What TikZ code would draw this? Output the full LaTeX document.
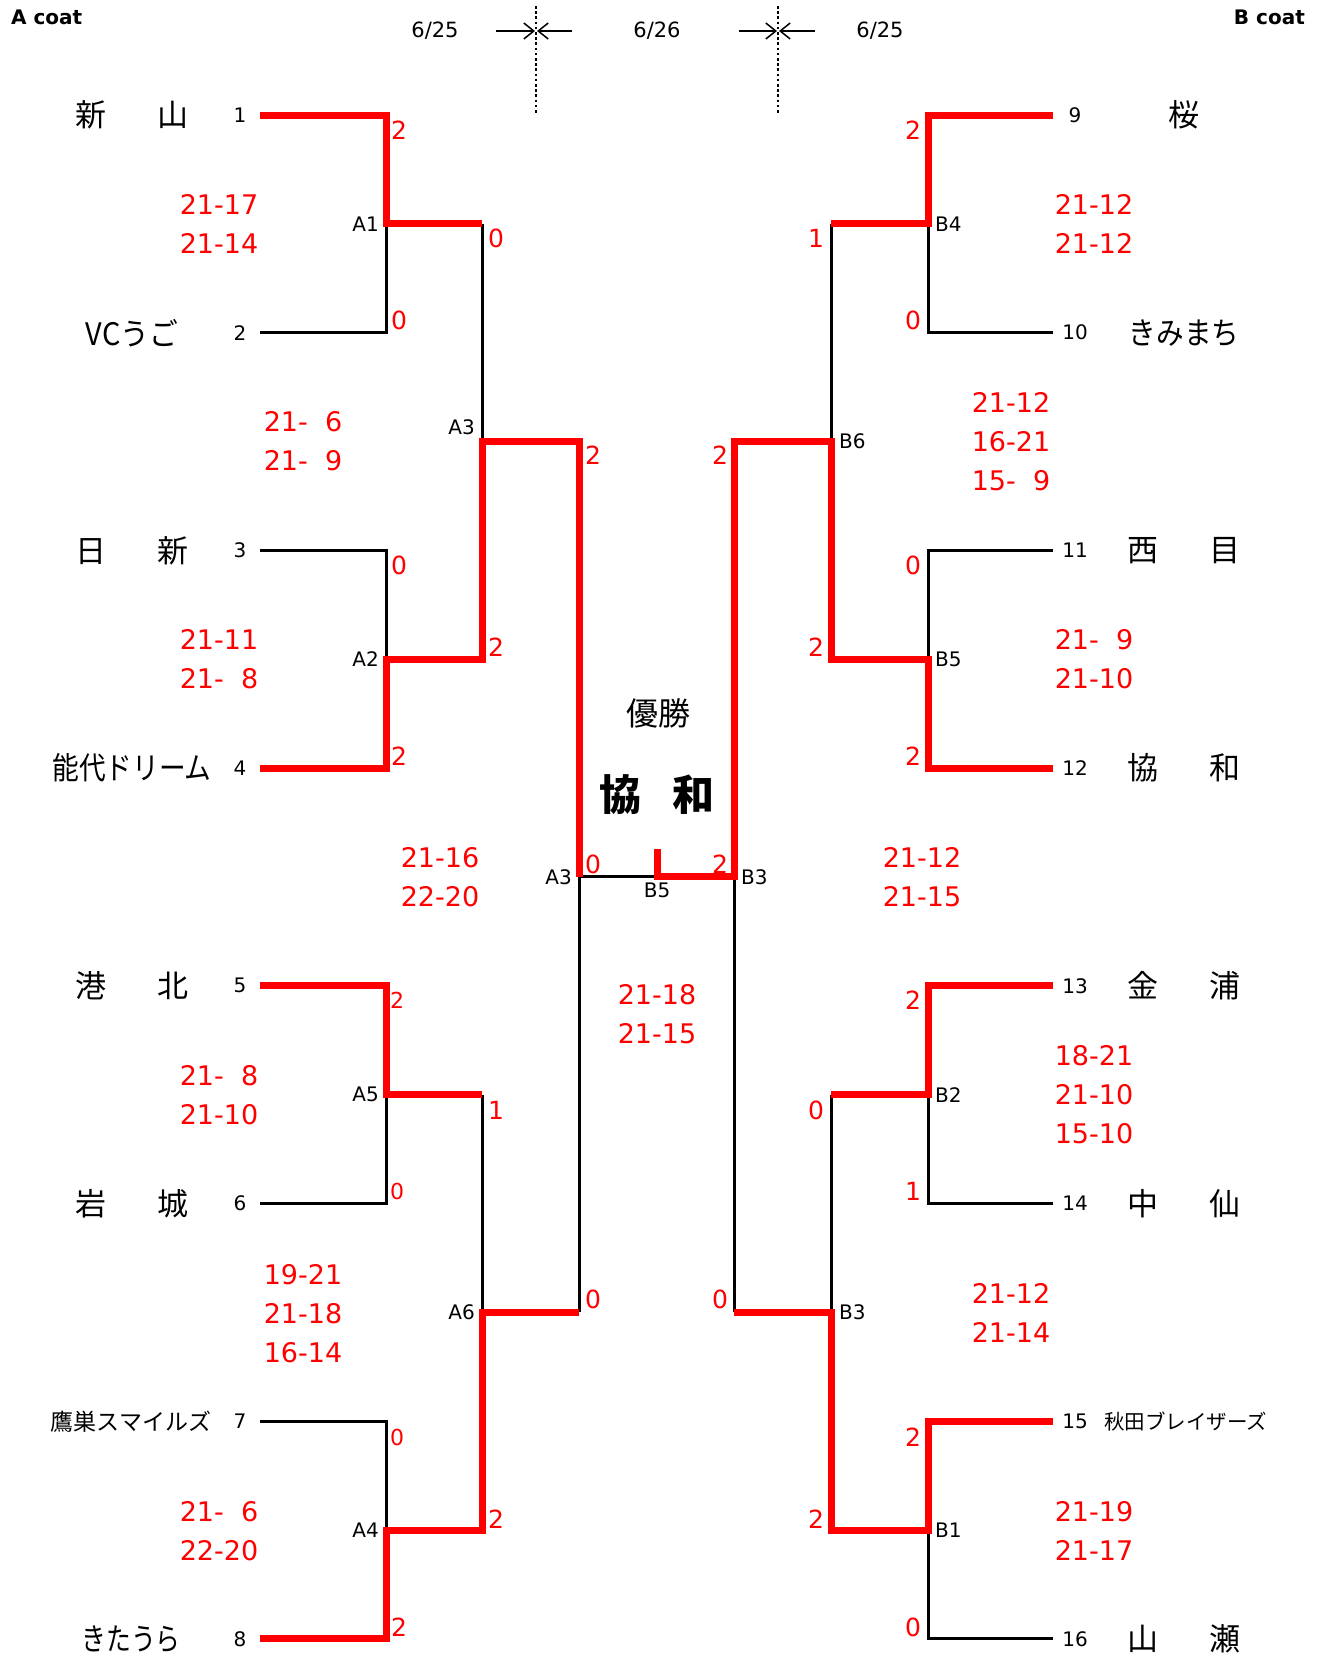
\documentclass[tikz,border=0pt]{standalone}
\usepackage{fontspec}
\usepackage{graphicx}
\setmainfont{DejaVu Sans}
\newfontfamily\jp{Noto Sans CJK JP}
\usetikzlibrary{arrows.meta}
\begin{document}
\begin{tikzpicture}[x=1pt,y=-1pt,
  wire/.style={line width=3pt, black, line join=miter},
  win/.style={line width=7pt, red, line join=miter},
  dotline/.style={line width=2.6pt, dash pattern=on 2.6pt off 2.6pt},
  arr/.style={line width=1.5pt, -{Straight Barb[length=10pt,width=16pt]}},
  team/.style={font=\jp\fontsize{31}{31}\selectfont, inner sep=0pt},
  teamsm/.style={font=\jp\fontsize{23}{23}\selectfont, inner sep=0pt},
  seed/.style={font=\fontsize{20}{20}\selectfont, inner sep=0pt},
  jn/.style={font=\fontsize{20}{20}\selectfont, inner sep=0pt},
  pt/.style={text=red, font=\fontsize{25}{25}\selectfont, inner sep=0pt},
  ptsm/.style={text=red, font=\fontsize{22}{22}\selectfont, inner sep=0pt},
  score/.style={text=red, align=center, font=\fontsize{27}{39}\selectfont, inner sep=0pt},
  hdr/.style={font=\bfseries\fontsize{20}{20}\selectfont, inner sep=0pt},
  datelbl/.style={font=\fontsize{21}{21}\selectfont, inner sep=0pt}]
\useasboundingbox (0,0) rectangle (1324,1655);

% ---------- coordinates ----------
\foreach \i in {1,...,8} {
  \coordinate (t\i) at (260,{115+(\i-1)*217.7});
}
\foreach \i in {9,...,16} {
  \coordinate (t\i) at (1053,{115+(\i-9)*217.7});
}
% left junctions
\coordinate (a1) at (386,223.85);  \coordinate (a1e) at (482,223.85);
\coordinate (a2) at (386,659.25);  \coordinate (a2e) at (482,659.25);
\coordinate (a5) at (386,1094.65); \coordinate (a5e) at (482,1094.65);
\coordinate (a4) at (386,1530.05); \coordinate (a4e) at (482,1530.05);
\coordinate (a3) at (482,441.55);  \coordinate (a3e) at (579,441.55);
\coordinate (a6) at (482,1312.35); \coordinate (a6e) at (579,1312.35);
\coordinate (fl) at (579,876.95);
% right junctions
\coordinate (b4) at (928,223.85);  \coordinate (b4e) at (831,223.85);
\coordinate (b5) at (928,659.25);  \coordinate (b5e) at (831,659.25);
\coordinate (b2) at (928,1094.65); \coordinate (b2e) at (831,1094.65);
\coordinate (b1) at (928,1530.05); \coordinate (b1e) at (831,1530.05);
\coordinate (b6) at (831,441.55);  \coordinate (b6e) at (734,441.55);
\coordinate (b3) at (831,1312.35); \coordinate (b3e) at (734,1312.35);
\coordinate (fr) at (734,876.95);
\coordinate (fm) at (657,876.95);
\coordinate (fs) at (657,849);

% ---------- black lines ----------
\draw[wire] (t2) -| (a1);
\draw[wire] (t3) -| (a2);
\draw[wire] (t6) -| (a5);
\draw[wire] (t7) -| (a4);
\draw[wire] (a1e) -- (a3);
\draw[wire] (a5e) -- (a6);
\draw[wire] (a6e) -- (fl) -- (fr);
\draw[wire] (t10) -| (b4);
\draw[wire] (t11) -| (b5);
\draw[wire] (t14) -| (b2);
\draw[wire] (t16) -| (b1);
\draw[wire] (b4e) -- (b6);
\draw[wire] (b2e) -- (b3);
\draw[wire] (b3e) -- (fr);

% ---------- winner lines ----------
\draw[win] (t1) -| (a1) -- (a1e);
\draw[win] (t4) -| (a2) -- (a2e) -- (a3) -- (a3e) -- (fl);
\draw[win] (t5) -| (a5) -- (a5e);
\draw[win] (t8) -| (a4) -- (a4e) -- (a6) -- (a6e);
\draw[win] (t9) -| (b4) -- (b4e);
\draw[win] (t12) -| (b5) -- (b5e) -- (b6) -- (b6e) -- (fr) -- (fm) -- (fs);
\draw[win] (t13) -| (b2) -- (b2e);
\draw[win] (t15) -| (b1) -- (b1e) -- (b3) -- (b3e);

% ---------- header ----------
\node[hdr, anchor=west] (acoat) at (11,17) {A coat};
\node[hdr, anchor=east] (bcoat) at (1305,17) {B coat};
\node[datelbl] (d1) at (435,31) {6/25};
\node[datelbl] (d2) at (657,31) {6/26};
\node[datelbl] (d3) at (880,31) {6/25};
\coordinate (v1t) at (536,6);  \coordinate (v1b) at (536,114);
\coordinate (v2t) at (778,6);  \coordinate (v2b) at (778,114);
\draw[dotline] (v1t) -- (v1b);
\draw[dotline] (v2t) -- (v2b);
\coordinate (ar1s) at (496,31); \coordinate (ar1e) at (535,31);
\coordinate (ar2s) at (572,31); \coordinate (ar2e) at (537,31);
\coordinate (ar3s) at (739,31); \coordinate (ar3e) at (777,31);
\coordinate (ar4s) at (815,31); \coordinate (ar4e) at (779,31);
\draw[arr] (ar1s) -- (ar1e);
\draw[arr] (ar2s) -- (ar2e);
\draw[arr] (ar3s) -- (ar3e);
\draw[arr] (ar4s) -- (ar4e);

% ---------- seeds ----------
\foreach \i in {1,...,8} {
  \node[seed] (n\i) at ([xshift=-20pt]t\i) {\i};
}
\foreach \i in {9,...,16} {
  \node[seed] (n\i) at ([xshift=22pt]t\i) {\i};
}

% ---------- team names ----------
\node[team] (nm1) at (132,115) {新\hspace{51pt}山};
\node[team] (nm2) at (132,332.7) {\scalebox{0.93}[1]{VCうご}};
\node[team] (nm3) at (132,550.4) {日\hspace{51pt}新};
\node[team] (nm4) at (132,768.1) {\scalebox{0.86}[1]{能代ドリーム}};
\node[team] (nm5) at (132,985.8) {港\hspace{51pt}北};
\node[team] (nm6) at (132,1203.5) {岩\hspace{51pt}城};
\node[teamsm] (nm7) at (131,1421.2) {鷹巣スマイルズ};
\node[team] (nm8) at (131,1638.9) {\scalebox{0.8}[1]{きたうら}};
\node[team] (nm9) at (1184,115) {桜};
\node[team] (nm10) at (1184,332.7) {\scalebox{0.89}[1]{きみまち}};
\node[team] (nm11) at (1184,550.4) {西\hspace{51pt}目};
\node[team] (nm12) at (1184,768.1) {協\hspace{51pt}和};
\node[team] (nm13) at (1184,985.8) {金\hspace{51pt}浦};
\node[team] (nm14) at (1184,1203.5) {中\hspace{51pt}仙};
\node[font=\jp\fontsize{20.5}{20.5}\selectfont, inner sep=0pt, anchor=west] (nm15) at (1104,1421.2) {秋田ブレイザーズ};
\node[team] (nm16) at (1184,1638.9) {山\hspace{51pt}瀬};

% ---------- junction labels ----------
\node[jn, anchor=east] (la1) at (379,223.85) {A1};
\node[jn, anchor=east] (la2) at (379,659.25) {A2};
\node[jn, anchor=east] (la5) at (379,1094.65) {A5};
\node[jn, anchor=east] (la4) at (379,1530.05) {A4};
\node[jn, anchor=east] (la3) at (475,427) {A3};
\node[jn, anchor=east] (la6) at (475,1312.35) {A6};
\node[jn, anchor=east] (lfa) at (572,876.95) {A3};
\node[jn] (lfb) at (657,890) {B5};
\node[jn, anchor=west] (lfc) at (741,876.95) {B3};
\node[jn, anchor=west] (lb4) at (935,223.85) {B4};
\node[jn, anchor=west] (lb5) at (935,659.25) {B5};
\node[jn, anchor=west] (lb2) at (935,1094.65) {B2};
\node[jn, anchor=west] (lb1) at (935,1530.05) {B1};
\node[jn, anchor=west] (lb6) at (839,441.55) {B6};
\node[jn, anchor=west] (lb3) at (839,1312.35) {B3};

% ---------- set counts ----------
\node[pt] (p1) at (399,130) {2};
\node[pt] (p2) at (399,320) {0};
\node[pt] (p3) at (399,565) {0};
\node[pt] (p4) at (399,756) {2};
\node[ptsm] (p5) at (397,1000) {2};
\node[ptsm] (p6) at (397,1191) {0};
\node[ptsm] (p7) at (397,1437) {0};
\node[pt] (p8) at (399,1627) {2};
\node[pt] (q1) at (496,238) {0};
\node[pt] (q2) at (496,647) {2};
\node[pt] (q5) at (496,1110) {1};
\node[pt] (q4) at (496,1519) {2};
\node[pt] (s1) at (593,455) {2};
\node[pt] (s2) at (593,864) {0};
\node[pt] (s3) at (593,1299) {0};
\node[pt] (s4) at (720,455) {2};
\node[pt] (s5) at (720,864) {2};
\node[pt] (s6) at (720,1299) {0};
\node[pt] (q9) at (816,238) {1};
\node[pt] (q12) at (816,647) {2};
\node[pt] (q13) at (816,1110) {0};
\node[pt] (q15) at (816,1519) {2};
\node[pt] (p9) at (913,130) {2};
\node[pt] (p10) at (913,320) {0};
\node[pt] (p11) at (913,565) {0};
\node[pt] (p12) at (913,756) {2};
\node[pt] (p13) at (913,1000) {2};
\node[pt] (p14) at (913,1191) {1};
\node[pt] (p15) at (913,1437) {2};
\node[pt] (p16) at (913,1627) {0};

% ---------- game scores ----------
\node[score] (ga1) at (219,223.5) {21-17\\21-14};
\node[score] (ga3) at (303,441.5) {21-\ \ 6\\21-\ \ 9};
\node[score] (ga2) at (219,659.5) {21-11\\21-\ \ 8};
\node[score] (gsa) at (440,877) {21-16\\22-20};
\node[score] (ga5) at (219,1095) {21-\ \ 8\\21-10};
\node[score] (ga6) at (303,1314) {19-21\\21-18\\16-14};
\node[score] (ga4) at (219,1531) {21-\ \ 6\\22-20};
\node[score] (gf) at (657,1014.5) {21-18\\21-15};
\node[score] (gb4) at (1094,223.5) {21-12\\21-12};
\node[score] (gb6) at (1011,442) {21-12\\16-21\\15-\ \ 9};
\node[score] (gb5) at (1094,659.5) {21-\ \ 9\\21-10};
\node[score] (gsb) at (922,877) {21-12\\21-15};
\node[score] (gb2) at (1094,1095) {18-21\\21-10\\15-10};
\node[score] (gb3) at (1011,1313) {21-12\\21-14};
\node[score] (gb1) at (1094,1531) {21-19\\21-17};

% ---------- champion ----------
\node[font=\jp\fontsize{32}{32}\selectfont, inner sep=0pt] (yusho) at (658,713) {優勝};
\node[font=\jp\bfseries\fontsize{42}{42}\selectfont, inner sep=0pt] (champ) at (656.5,795) {協\hspace{31pt}和};
\end{tikzpicture}
\end{document}
